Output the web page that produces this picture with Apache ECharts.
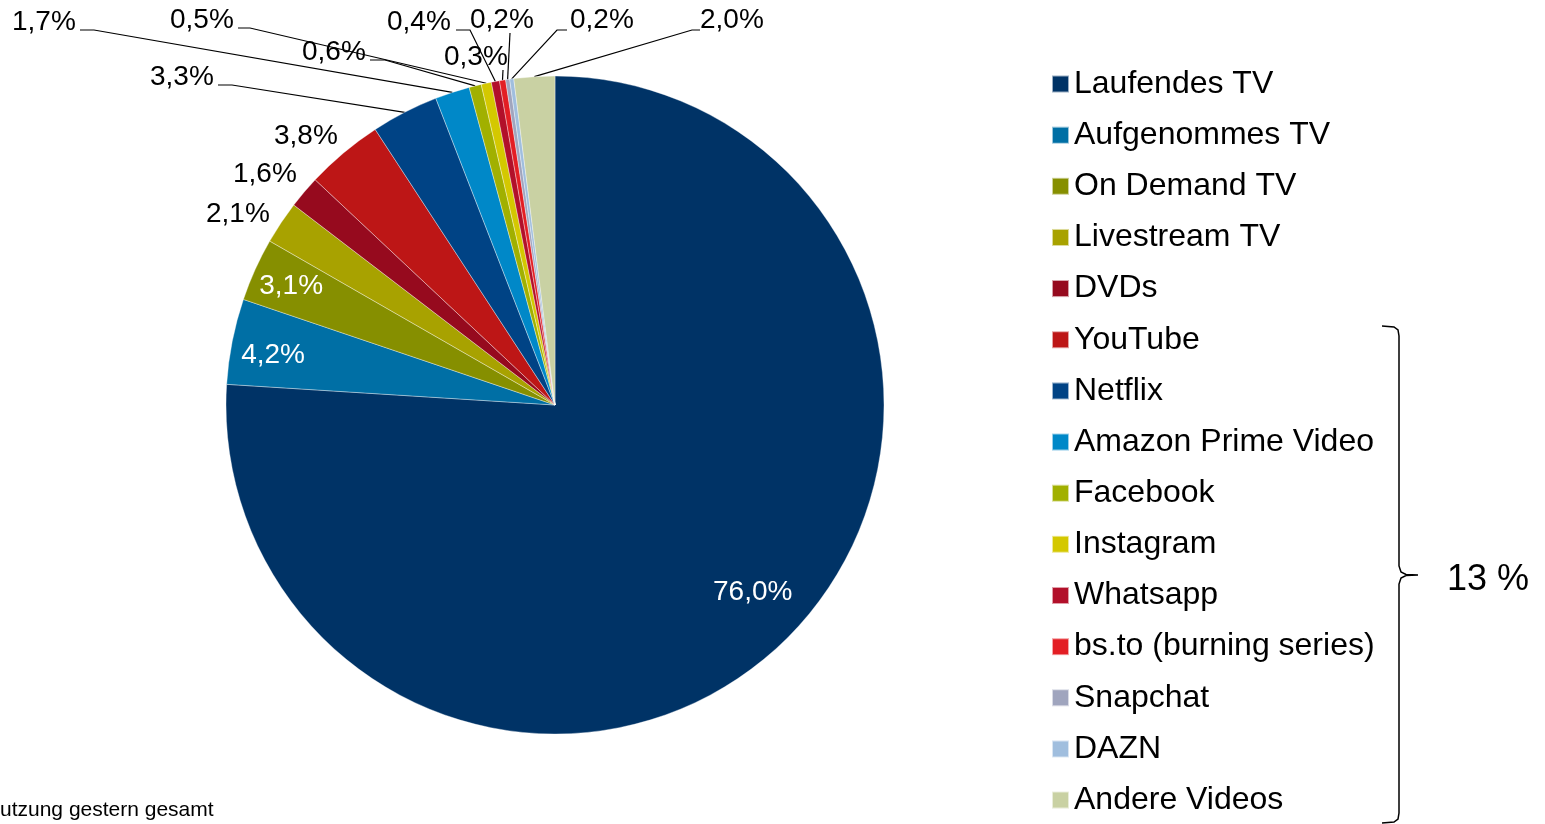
<!DOCTYPE html>
<html><head><meta charset="utf-8">
<script src="https://cdn.jsdelivr.net/npm/echarts@6/dist/echarts.min.js"></script>
<style>html,body{margin:0;padding:0;background:#fff}#c{width:1545px;height:824px}</style>
</head><body><div id="c"></div>
<script>
const categories = ['Laufendes TV','Aufgenommes TV','On Demand TV','Livestream TV','DVDs','YouTube','Netflix','Amazon Prime Video','Facebook','Instagram','Whatsapp','bs.to (burning series)','Snapchat','DAZN','Andere Videos'];
const values = [76.0,4.2,3.1,2.1,1.6,3.8,3.3,1.7,0.6,0.5,0.4,0.3,0.2,0.2,2.0];
const colors = ['#003366','#006FA5','#868F00','#A8A200','#960A1E','#BD1616','#004385','#0088C8','#A1B000','#D4C800','#B2102A','#E31E24','#A0A5BE','#A0BEDE','#C9D1A3'];
const bracketLabel = '13 %';
const footnote = 'utzung gestern gesamt';

const FONT = 'Arial, "Liberation Sans", sans-serif';
const CX = 555, CY = 405, R = 329;
const labelPlace = {
  0: {inside: 0.827, da: -3.4}, 1: {inside: 0.87, da: -1.2}, 2: {inside: 0.88, da: 0},
  3: {x: 206, y: 214}, 4: {x: 233, y: 174}, 5: {x: 274, y: 136},
  6: {x: 150, y: 77, line: [[232,85],[218,85]]},
  7: {x: 12, y: 22, line: [[94,30],[80,30]]},
  8: {x: 302, y: 52, line: [[385,60],[370,60]]},
  9: {x: 170, y: 20, line: [[250,28],[238,28]]},
  10: {x: 387, y: 22, line: [[470,30],[456,30]]},
  11: {x: 444, y: 57, line: [[503,70],[503,70]]},
  12: {x: 470, y: 20, line: [[510,33],[510,33]]},
  13: {x: 570, y: 20, line: [[557,30],[567,30]]},
  14: {x: 700, y: 20, line: [[692,30],[700,30]]}
};
const total = values.reduce((a,b)=>a+b,0);
function midAngle(i){ let c=0; for(let k=0;k<i;k++) c+=values[k]; return (c+values[i]/2)/total*2*Math.PI; }
function fmt(v){ return v.toFixed(1).replace('.',',') + '%'; }

const data = categories.map((n,i)=>{
  const p = labelPlace[i];
  const inside = p && p.inside;
  return {
    name: n, value: values[i],
    itemStyle: {color: colors[i]},
    label: {position: inside ? 'inside' : 'outside', color: inside ? '#fff' : '#000'},
    labelLine: {show: !!(p && p.line)}
  };
});

const chart = echarts.init(document.getElementById('c'));
chart.setOption({
  animation: false,
  legend: {
    orient: 'vertical', left: 1051, top: 68, padding: 0,
    icon: 'rect', itemWidth: 17, itemHeight: 17, itemGap: 19.15,
    data: categories,
    textStyle: {fontSize: 32, fontFamily: FONT, color: '#000', lineHeight: 32},
    selectedMode: false
  },
  series: [{
    type: 'pie', center: [CX, CY], radius: R, startAngle: 90, clockwise: true,
    avoidLabelOverlap: false,
    itemStyle: {borderColor: 'rgba(255,255,255,0.6)', borderWidth: 0.6},
    label: {formatter: p => fmt(p.value), fontSize: 28, fontFamily: FONT},
    labelLine: {lineStyle: {color: '#000', width: 1.2}},
    emphasis: {disabled: true},
    data: data,
    labelLayout: function(params){
      const i = params.dataIndex, p = labelPlace[i];
      const a = midAngle(i);
      if (p.inside) {
        const b = a + p.da * Math.PI / 180;
        return {x: CX + p.inside*R*Math.sin(b), y: CY - p.inside*R*Math.cos(b), align: 'center', verticalAlign: 'middle'};
      }
      const res = {x: p.x, y: p.y, align: 'left', verticalAlign: 'middle'};
      if (p.line) {
        const e = [CX + R*Math.sin(a), CY - R*Math.cos(a)];
        res.labelLinePoints = [e, p.line[0], p.line[1]];
      }
      return res;
    }
  }],
  graphic: [
    {type: 'polyline', shape: {points: [[1382,326],[1394,327],[1398,330],[1399,336],[1399,566],[1401,572],[1406,574.5],[1418,575],[1406,575.5],[1401,578],[1399,584],[1399,813],[1398,819],[1394,822],[1382,823]]},
     style: {fill: null, stroke: '#000', lineWidth: 1.5}},
    {type: 'text', left: 1447, top: 562, style: {text: bracketLabel, fontSize: 36, fontFamily: FONT, fill: '#000'}},
    {type: 'text', left: 0, top: 800, style: {text: footnote, fontSize: 21, fontFamily: FONT, fill: '#000'}}
  ]
});
</script></body></html>
